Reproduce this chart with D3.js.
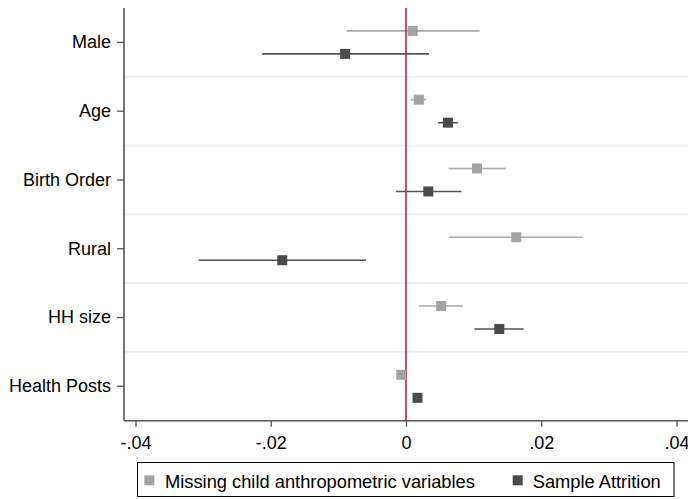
<!DOCTYPE html>
<html>
<head>
<meta charset="utf-8">
<script src="https://cdn.jsdelivr.net/npm/d3@7"></script>
<style>
  html, body { margin: 0; padding: 0; background: #fff; }
  svg { display: block; }
  text { font-family: "Liberation Sans", Arial, Helvetica, sans-serif; }
</style>
</head>
<body>
<svg id="chart" width="688" height="499"></svg>
<script>
// ---- Data ----
const categories = ["Male", "Age", "Birth Order", "Rural", "HH size", "Health Posts"];
const seriesNames = ["Missing child anthropometric variables", "Sample Attrition"];

// Missing child anthropometric variables
const missingEst = [0.0010, 0.0019, 0.0105, 0.0163, 0.0052, -0.0007];
const missingLo  = [-0.0088, 0.0007, 0.0063, 0.0063, 0.0019, -0.0009];
const missingHi  = [0.0109, 0.0030, 0.0148, 0.0261, 0.0084, -0.0005];

// Sample Attrition
const attritionEst = [-0.0090, 0.0062, 0.0033, -0.0183, 0.0138, 0.0017];
const attritionLo  = [-0.0213, 0.0047, -0.0015, -0.0307, 0.0101, 0.0015];
const attritionHi  = [0.0034, 0.0077, 0.0082, -0.0059, 0.0174, 0.0019];

const xTickValues = [-0.04, -0.02, 0, 0.02, 0.04];
const xTickLabels = ["-.04", "-.02", "0", ".02", ".04"];

// ---- Layout / styles ----
const colors = ["#a3a3a3", "#4a4a4a"];
const lineColors = ["#a9a9a9", "#555555"];
const offsets = [-11.5, 11.5];
const markerSize = 10;

const svg = d3.select("#chart");
const plotLeft = 124, plotRight = 688, plotTop = 8, plotBottom = 420.7;

const x = d3.scaleLinear().domain([-0.0417, 0.0417]).range([plotLeft, plotRight]);
const y = d3.scaleBand().domain(categories).range([plotTop, plotBottom]).padding(0);

// band separators
const g = svg.append("g");
g.selectAll("line.sep")
  .data(categories.slice(1))
  .enter().append("line")
  .attr("class", "sep")
  .attr("x1", plotLeft).attr("x2", plotRight)
  .attr("y1", d => y(d)).attr("y2", d => y(d))
  .attr("stroke", "#e8f0f2").attr("stroke-width", 1.6);

const series = [
  { est: missingEst, lo: missingLo, hi: missingHi },
  { est: attritionEst, lo: attritionLo, hi: attritionHi }
];

// CI lines
series.forEach((s, si) => {
  g.selectAll("line.ci" + si)
    .data(categories)
    .enter().append("line")
    .attr("x1", (d, i) => x(s.lo[i])).attr("x2", (d, i) => x(s.hi[i]))
    .attr("y1", d => y(d) + y.bandwidth() / 2 + offsets[si])
    .attr("y2", d => y(d) + y.bandwidth() / 2 + offsets[si])
    .attr("stroke", lineColors[si]).attr("stroke-width", 1.6);
});

// zero line
g.append("line")
  .attr("x1", x(0)).attr("x2", x(0))
  .attr("y1", plotTop).attr("y2", plotBottom)
  .attr("stroke", "#d01c45").attr("stroke-width", 1.6);

// markers
series.forEach((s, si) => {
  g.selectAll("rect.m" + si)
    .data(categories)
    .enter().append("rect")
    .attr("x", (d, i) => x(s.est[i]) - markerSize / 2)
    .attr("y", d => y(d) + y.bandwidth() / 2 + offsets[si] - markerSize / 2)
    .attr("width", markerSize).attr("height", markerSize)
    .attr("fill", colors[si]);
});

// axes
const yAxis = d3.axisLeft(y).tickSize(7).tickPadding(6);
const yg = svg.append("g").attr("transform", `translate(${plotLeft},0)`).call(yAxis);
yg.select(".domain").attr("stroke", "#555").attr("stroke-width", 1.6)
  .attr("d", `M0,${plotTop}V${plotBottom}`);
yg.selectAll(".tick line").attr("stroke", "#555").attr("stroke-width", 1.3);
yg.selectAll(".tick text").attr("font-size", 18).attr("fill", "#000")
  .attr("font-family", "'Liberation Sans', Arial, sans-serif");

const xAxis = d3.axisBottom(x).tickValues(xTickValues)
  .tickFormat((d, i) => xTickLabels[i]).tickSize(6).tickPadding(10);
const xg = svg.append("g").attr("transform", `translate(0,${plotBottom})`).call(xAxis);
xg.select(".domain").attr("stroke", "#555").attr("stroke-width", 1.6)
  .attr("d", `M${plotLeft},0H${plotRight}`);
xg.selectAll(".tick line").attr("stroke", "#555").attr("stroke-width", 1.3);
xg.selectAll(".tick text").attr("font-size", 18).attr("fill", "#000")
  .attr("font-family", "'Liberation Sans', Arial, sans-serif");

// legend
const leg = svg.append("g");
leg.append("rect")
  .attr("x", 137.5).attr("y", 462.5).attr("width", 536.5).attr("height", 34)
  .attr("fill", "#fff").attr("stroke", "#000").attr("stroke-width", 1);
const legItems = [
  { sx: 144.3, tx: 165 },
  { sx: 512.7, tx: 532.7 }
];
seriesNames.forEach((name, i) => {
  leg.append("rect")
    .attr("x", legItems[i].sx).attr("y", 475.3)
    .attr("width", markerSize).attr("height", markerSize)
    .attr("fill", colors[i]);
  leg.append("text")
    .attr("x", legItems[i].tx).attr("y", 487.5)
    .attr("font-size", 18.3).attr("fill", "#000")
    .text(name);
});
</script>
</body>
</html>
